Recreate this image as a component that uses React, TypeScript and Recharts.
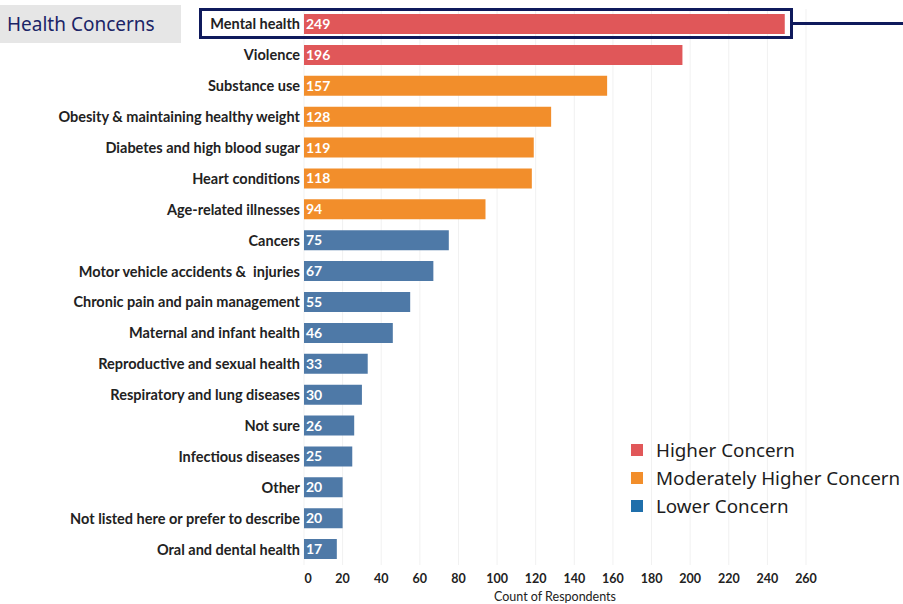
import React from 'react'
import { BarChart, Bar, XAxis, YAxis, CartesianGrid, Cell, LabelList } from 'recharts'

const categories = [
  'Mental health', 'Violence', 'Substance use', 'Obesity & maintaining healthy weight',
  'Diabetes and high blood sugar', 'Heart conditions', 'Age-related illnesses', 'Cancers',
  'Motor vehicle accidents &  injuries', 'Chronic pain and pain management',
  'Maternal and infant health', 'Reproductive and sexual health',
  'Respiratory and lung diseases', 'Not sure', 'Infectious diseases', 'Other',
  'Not listed here or prefer to describe', 'Oral and dental health',
]
const counts = [249, 196, 157, 128, 119, 118, 94, 75, 67, 55, 46, 33, 30, 26, 25, 20, 20, 17]
// 0 = higher, 1 = moderately higher, 2 = lower
const concernLevel = [0, 0, 1, 1, 1, 1, 1, 2, 2, 2, 2, 2, 2, 2, 2, 2, 2, 2]
const xTicks = [0, 20, 40, 60, 80, 100, 120, 140, 160, 180, 200, 220, 240, 260]

const legendNames = ['Higher Concern', 'Moderately Higher Concern', 'Lower Concern']
const legendColors = ['#e15759', '#f28e2b', '#1f6fab']
const barColors = ['#e05759', '#f28e2b', '#4e79a7']

const data = categories.map((name, i) => ({ name, value: counts[i], level: concernLevel[i] }))

const NAVY = '#0f1a5c'

const CategoryTick = ({ x, y, payload }: any) => (
  <text x={x + 4} y={y} dy={5} textAnchor="end" fill="#222"
    style={{ fontFamily: 'Lato', fontWeight: 700, fontSize: 14.5, whiteSpace: 'pre' }}>
    {payload.value}
  </text>
)

const CountTick = ({ x, y, payload }: any) => (
  <text x={x + (payload.value === 0 ? 4 : 0)} y={y} dy={10} textAnchor="middle" fill="#222"
    style={{ fontFamily: 'Lato', fontWeight: 700, fontSize: 12.5 }}>
    {payload.value}
  </text>
)

const ValueLabel = ({ x, y, height, value }: any) => (
  <text x={x + 2} y={y + height / 2} dy={5} fill="#fff"
    style={{ fontFamily: 'Lato', fontWeight: 700, fontSize: 14 }}>
    {value}
  </text>
)

export default function App() {
  return (
    <div style={{ position: 'absolute', left: 0, top: 0, width: 903, height: 604, background: '#fff' }}>
      <BarChart width={903} height={604} data={data} layout="vertical"
        margin={{ top: 9, right: 97, bottom: 0, left: 0 }} barSize={20}>
        <CartesianGrid horizontal={false} stroke="#f1f1f1" />
        <XAxis type="number" domain={[0, 260]} ticks={xTicks} axisLine={false} tickLine={false}
          tick={<CountTick />} height={39}
          label={{ value: 'Count of Respondents', position: 'insideBottom', offset: 3,
            style: { fontFamily: 'Lato', fontSize: 12.5, fill: '#222' } }} />
        <YAxis type="category" dataKey="name" width={304} axisLine={false} tickLine={false}
          tick={<CategoryTick />} interval={0} />
        <Bar dataKey="value" isAnimationActive={false}>
          {data.map((d, i) => (
            <Cell key={i} fill={barColors[d.level]} />
          ))}
          <LabelList dataKey="value" content={<ValueLabel />} />
        </Bar>
      </BarChart>
      {/* legend */}
      <div style={{ position: 'absolute', left: 631, top: 436, fontFamily: '"Noto Sans"', fontSize: 18.8,
        color: '#1d1d1d', whiteSpace: 'nowrap' }}>
        {legendNames.map((n, i) => (
          <div key={n} style={{ display: 'flex', alignItems: 'center', height: 28 }}>
            <span style={{ width: 12, height: 12, background: legendColors[i], marginRight: 13 }} />
            {n}
          </div>
        ))}
      </div>
      {/* header */}
      <div style={{ position: 'absolute', left: 0, top: 5, width: 181, height: 38, background: '#e6e6e6',
        fontFamily: '"Noto Sans"', fontSize: 19, color: '#1b2466', lineHeight: '38px', paddingLeft: 7,
        boxSizing: 'border-box' }}>
        Health Concerns
      </div>
      {/* highlight on top row */}
      <div style={{ position: 'absolute', left: 199, top: 8, width: 594, height: 31,
        border: `3px solid ${NAVY}`, boxSizing: 'border-box' }} />
      <div style={{ position: 'absolute', left: 793, top: 22, width: 110, height: 3, background: NAVY }} />
    </div>
  )
}
